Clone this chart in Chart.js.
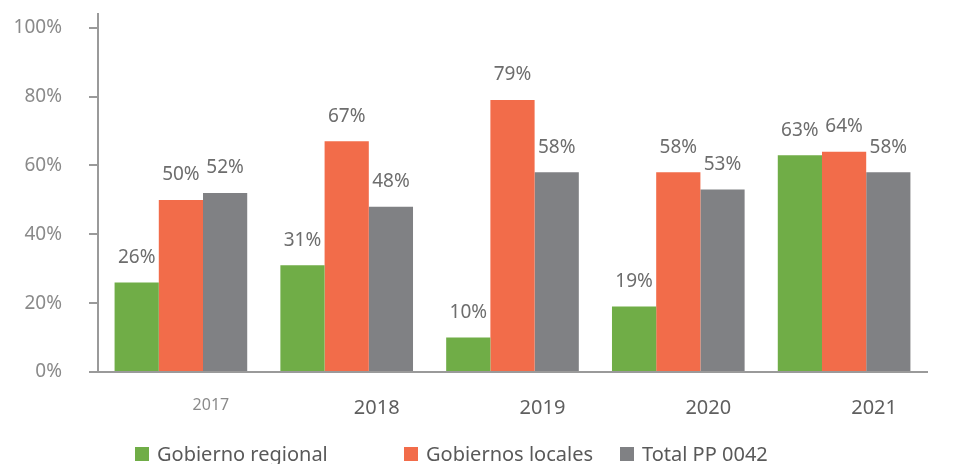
<!DOCTYPE html>
<html>
<head>
<meta charset="utf-8">
<script src="https://cdn.jsdelivr.net/npm/chart.js@4/dist/chart.umd.min.js"></script>
<style>
  html, body { margin: 0; padding: 0; background: #fff; }
  #wrap { position: relative; width: 963px; height: 464px; overflow: hidden; }
  .leg { position: absolute; top: 440px; font-family: 'Noto Sans', sans-serif; font-size: 20px; color: #595959; white-space: nowrap; }
  .leg i { display: inline-block; width: 14px; height: 14px; margin-right: 8px; vertical-align: 0px; }
</style>
</head>
<body>
<div id="wrap">
  <canvas id="chart" width="963" height="464"></canvas>
  <div class="leg" style="left:135px"><i style="background:#70AD47"></i>Gobierno regional</div>
  <div class="leg" style="left:404px"><i style="background:#F26C4A"></i>Gobiernos locales</div>
  <div class="leg" style="left:620px"><i style="background:#808184"></i>Total PP 0042</div>
</div>
<script>
'use strict';

// ── data ──
const years     = ['2017', '2018', '2019', '2020', '2021'];
const regional  = [26, 31, 10, 19, 63];
const locales   = [50, 67, 79, 58, 64];
const totalPP   = [52, 48, 58, 53, 58];
const yTicks    = [0, 20, 40, 60, 80, 100];

const FONT = "'Noto Sans', sans-serif";

// value labels above each bar
const valueLabels = {
  id: 'valueLabels',
  afterDatasetsDraw(chart) {
    const ctx = chart.ctx;
    ctx.save();
    ctx.font = '19px ' + FONT;
    ctx.fillStyle = '#6d6d6d';
    ctx.textAlign = 'center';
    ctx.textBaseline = 'middle';
    chart.data.datasets.forEach((ds, i) => {
      chart.getDatasetMeta(i).data.forEach((bar, j) => {
        ctx.fillText(ds.data[j] + '%', bar.x, bar.y - 25);
      });
    });
    ctx.restore();
  }
};

new Chart(document.getElementById('chart').getContext('2d'), {
  type: 'bar',
  data: {
    labels: years,
    datasets: [
      { label: 'Gobierno regional', data: regional, backgroundColor: '#70AD47' },
      { label: 'Gobiernos locales', data: locales,  backgroundColor: '#F26C4A' },
      { label: 'Total PP 0042',     data: totalPP,  backgroundColor: '#808184' },
    ],
  },
  options: {
    responsive: false,
    animation: false,
    datasets: { bar: { barPercentage: 1, categoryPercentage: 0.8 } },
    layout: { padding: { left: 0, right: 36, top: 14, bottom: 0 } },
    plugins: { legend: { display: false }, tooltip: { enabled: false } },
    scales: {
      x: {
        grid: { display: false, drawTicks: false },
        border: { display: true, color: '#9a9a9a', width: 2 },
        ticks: {
          padding: 24,
          labelOffset: 30,
          font: (c) => ({ family: FONT, size: c.index === 0 ? 16 : 20 }),
          color: (c) => c.index === 0 ? '#8a8a8a' : '#5f5f5f',
        },
        afterFit: (s) => { s.height = 92; },
      },
      y: {
        min: 0,
        max: 104,
        afterBuildTicks: (s) => { s.ticks = yTicks.map((v) => ({ value: v })); },
        grid: { drawOnChartArea: false, tickLength: 9, color: '#9a9a9a', lineWidth: 2 },
        border: { display: true, color: '#9a9a9a', width: 2 },
        ticks: {
          padding: 27,
          font: { family: FONT, size: 19 },
          color: '#8a8a8a',
          callback: (v) => v + '%',
        },
        afterFit: (s) => { s.width = 98; s.paddingTop = 0; s.paddingBottom = 0; },
      },
    },
  },
  plugins: [valueLabels],
});
</script>
</body>
</html>
